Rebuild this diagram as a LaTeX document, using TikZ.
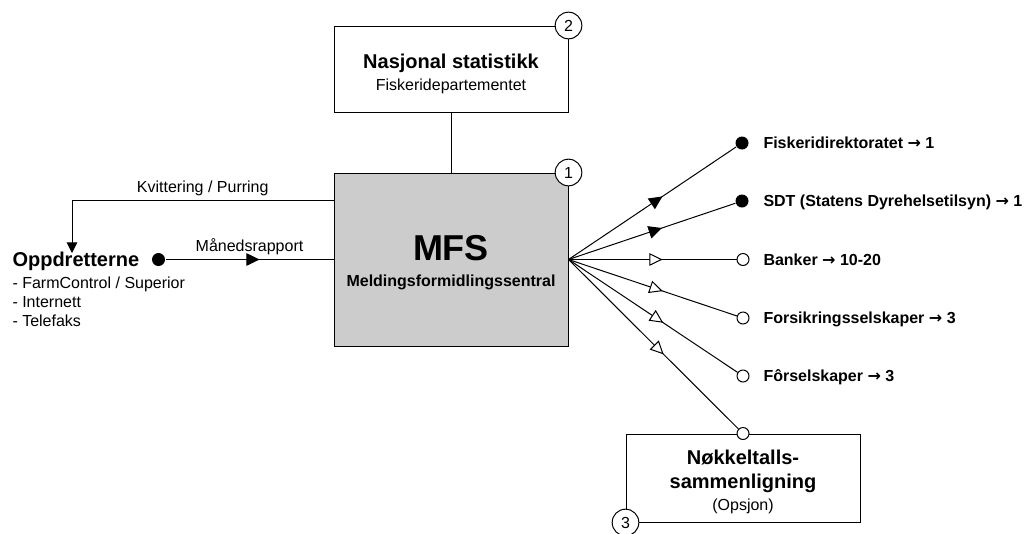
\documentclass[tikz,border=0pt]{standalone}
\usepackage{fontspec}
\setmainfont{Liberation Sans}
\newfontfamily\arrowfont{DejaVu Sans}
\usepackage{tikz}
\usetikzlibrary{arrows.meta}
\usetikzlibrary{decorations.markings}
\usetikzlibrary{calc}
\definecolor{mfs-gray}{RGB}{204, 204, 204}
\newcommand{\toarrow}{{\arrowfont\bfseries →}}

\begin{document}
\begin{tikzpicture}[x=0.75pt, y=-0.75pt, line width=0.75pt,
    box/.style={draw, fill=white, minimum width=175.5pt, inner sep=0pt},
    boxtext/.style={align=center, inner sep=0pt, font=\fontsize{12}{17}\selectfont},
    numcirc/.style={draw, circle, fill=white, minimum size=20pt, inner sep=0pt,
      font=\fontsize{12}{14}\selectfont},
    dotfull/.style={circle, fill=black, minimum size=9.75pt, inner sep=0pt},
    dotopen/.style={circle, draw, fill=white, minimum size=9pt, inner sep=0pt},
    lbl/.style={font=\fontsize{12}{14}\selectfont},
    target/.style={anchor=base west, inner sep=0pt, font=\bfseries\fontsize{12}{14}\selectfont},
    midfull/.style={postaction={decorate}, decoration={markings,
      mark=at position 0.56 with {\arrow{Triangle[length=10pt, width=9.5pt]}}}},
    midopen/.style={postaction={decorate}, decoration={markings,
      mark=at position 0.56 with {\arrow{Triangle[open, fill=white, length=10pt, width=9.5pt]}}}}
  ]
  \useasboundingbox (0, 0) rectangle (1034, 533);

  % boxes
  \node[box, minimum height=64.5pt] (stat) at (451, 69) {};
  \node[boxtext] (stattxt) at (451, 74)
    {{\bfseries\fontsize{15}{17}\selectfont Nasjonal statistikk}\\Fiskeridepartementet};
  \node[box, fill=mfs-gray, minimum height=129.75pt] (mfs) at (451, 259.5) {};
  \node[boxtext, font=\fontsize{12}{19.5}\selectfont] (mfstxt) at (451, 263)
    {{\bfseries\fontsize{27}{19.5}\selectfont MFS}\\{\bfseries Meldingsformidlingssentral}};
  \node[box, minimum height=66pt] (nok) at (743, 478) {};
  \node[boxtext, font=\fontsize{12}{18}\selectfont] (noktxt) at (743, 482)
    {{\bfseries\fontsize{15}{18}\selectfont Nøkkeltalls-}\\{\bfseries\fontsize{15}{18}\selectfont sammenligning}\\[-1.5pt](Opsjon)};

  \draw (stat.south) -- (mfs.north);

  \node[numcirc] (n2) at (stat.north east) {2};
  \node[numcirc] (n1) at (mfs.north east) {1};
  \node[numcirc] (n3) at (nok.south west) {3};

  % oppdretterne
  \node[anchor=base west, inner sep=0pt, font=\bfseries\fontsize{15}{18}\selectfont] (oppd) at (12, 266) {Oppdretterne};
  \node[anchor=base west, inner sep=0pt, lbl] (item1) at (12, 288) {- FarmControl / Superior};
  \node[anchor=base west, inner sep=0pt, lbl] (item2) at (12, 307.5) {- Internett};
  \node[anchor=base west, inner sep=0pt, lbl] (item3) at (12, 326.5) {- Telefaks};
  \node[dotfull] (oppddot) at (158.5, 259.5) {};

  \coordinate (kvstart) at ($(mfs.north west) + (0, 28)$);
  \coordinate (kvend) at (72, 253);
  \draw[-{Triangle[length=8pt, width=8pt]}] (kvstart) -- node[above, lbl] (kvlbl) {Kvittering / Purring} (kvend |- kvstart) -- (kvend);
  \draw[midfull] (oppddot) -- node[above, lbl] (mrlbl) {Månedsrapport} (mfs.west);

  % mottakere
  \node[dotfull] (t1) at (742, 143) {};
  \node[dotfull] (t2) at (742, 201) {};
  \node[dotopen] (t3) at (743, 259.5) {};
  \node[dotopen] (t4) at (743, 318) {};
  \node[dotopen] (t5) at (743, 376) {};
  \node[dotopen] (t6) at (nok.north) {};

  \draw[midfull] (mfs.east) -- (t1);
  \draw[midfull] (mfs.east) -- (t2);
  \draw[midopen] (mfs.east) -- (t3);
  \draw[midopen] (mfs.east) -- (t4);
  \draw[midopen] (mfs.east) -- (t5);
  \draw[midopen] (mfs.east) -- (t6);

  \node[target] (l1) at (763, 148.7) {Fiskeridirektoratet \toarrow{} 1};
  \node[target] (l2) at (763, 206.7) {SDT (Statens Dyrehelsetilsyn) \toarrow{} 1};
  \node[target] (l3) at (763, 265.2) {Banker \toarrow{} 10-20};
  \node[target] (l4) at (763, 323.7) {Forsikringsselskaper \toarrow{} 3};
  \node[target] (l5) at (763, 381.7) {Fôrselskaper \toarrow{} 3};

\end{tikzpicture}
\end{document}
